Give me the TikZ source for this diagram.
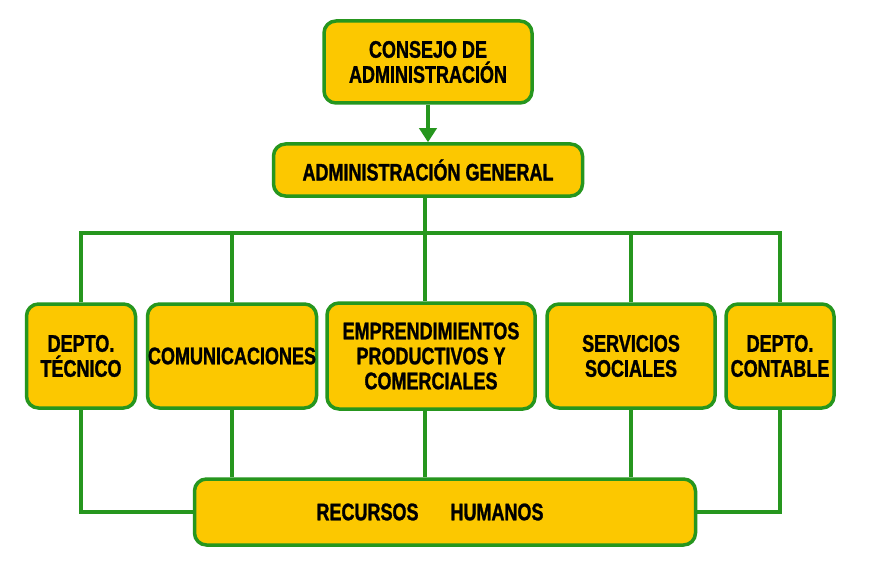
\documentclass[tikz,border=0pt]{standalone}
\usepackage{fontspec}
\setmainfont{Liberation Sans}[FakeStretch=0.75, BoldFeatures={FakeBold=1.2}]
\usetikzlibrary{arrows.meta}
\definecolor{oro}{RGB}{252,200,0}
\definecolor{verde}{RGB}{38,150,30}

\begin{document}
\begin{tikzpicture}[x=1pt,y=-1pt,
        caja/.style={draw=verde, fill=oro, line width=3.5pt, rounded corners=12pt,
            align=center, inner sep=0pt, font=\fontsize{24}{25}\selectfont\bfseries},
        linea/.style={draw=verde, line width=3.5pt}]
            \useasboundingbox[fill=white] (0,0) rectangle (873,575);
            \node[caja, minimum width=208pt, minimum height=82pt] (consejo) at (428,62) {CONSEJO DE\\ADMINISTRACIÓN};
            \node[caja, minimum width=309pt, minimum height=52pt] (general) at (428,170) {ADMINISTRACIÓN GENERAL};
            \node[caja, minimum width=109pt, minimum height=104pt] (tecnico) at (81,356) {DEPTO.\\TÉCNICO};
            \node[caja, minimum width=169pt, minimum height=104pt] (comunic) at (232,356) {COMUNICACIONES};
            \node[caja, minimum width=208pt, minimum height=106pt] (empren) at (431,356) {EMPRENDIMIENTOS\\PRODUCTIVOS Y\\COMERCIALES};
            \node[caja, minimum width=168pt, minimum height=104pt] (servic) at (631,356) {SERVICIOS\\SOCIALES};
            \node[caja, minimum width=108pt, minimum height=104pt] (contable) at (780,356) {DEPTO.\\CONTABLE};
            \node[caja, minimum width=501pt, minimum height=66pt] (recursos) at (445,512) {RECURSOS\hspace{32pt}HUMANOS\hspace{30pt}};
            \coordinate (bus) at (425,233);
            \draw[linea, -{Triangle[width=17pt,length=14pt]}] (consejo) -- (general);
            \draw[linea] (general.south -| bus) -- (bus);
            \draw[linea] (tecnico.north) |- (bus) -| (contable.north);
            \draw[linea] (comunic.north |- bus) -- (comunic.north);
            \draw[linea] (bus) -- (bus |- empren.north);
            \draw[linea] (servic.north |- bus) -- (servic.north);
            \draw[linea] (tecnico.south) |- (recursos.west);
            \draw[linea] (contable.south) |- (recursos.east);
            \draw[linea] (comunic.south) -- (comunic.south |- recursos.north);
            \draw[linea] (bus |- empren.south) -- (bus |- recursos.north);
            \draw[linea] (servic.south) -- (servic.south |- recursos.north);
        \end{tikzpicture}
\end{document}
